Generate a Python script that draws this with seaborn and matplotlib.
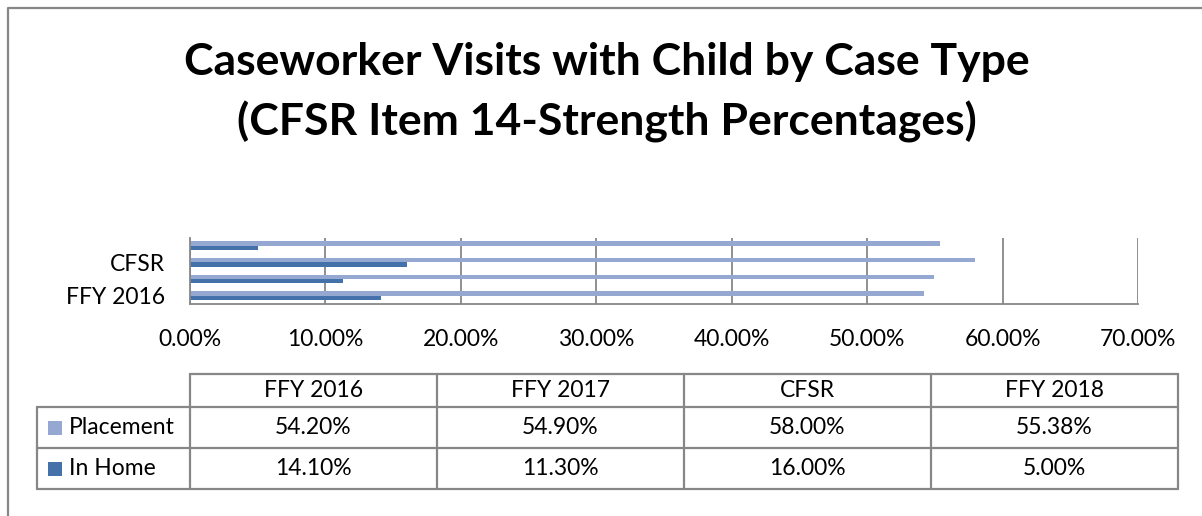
import numpy as np
import pandas as pd
import matplotlib
matplotlib.use('Agg')
import matplotlib.pyplot as plt
from matplotlib.patches import Rectangle
import seaborn as sns

# data
categories = ['FFY 2016', 'FFY 2017', 'CFSR', 'FFY 2018']
series = ['Placement', 'In Home']
placement = [54.20, 54.90, 58.00, 55.38]
in_home = [14.10, 11.30, 16.00, 5.00]
x_ticks = [0, 10, 20, 30, 40, 50, 60, 70]
shown_labels = ['CFSR', 'FFY 2016']

colors = {'Placement': '#95A8D1', 'In Home': '#4571AA'}
grey = '#878787'

sns.set_style('white')
plt.rcParams['font.family'] = ['Lato', 'DejaVu Sans']
plt.rcParams['text.color'] = 'black'
plt.rcParams['xtick.color'] = 'black'
plt.rcParams['ytick.color'] = 'black'

df = pd.DataFrame({
    'category': categories * 2,
    'series': ['Placement'] * 4 + ['In Home'] * 4,
    'value': placement + in_home,
})

W, H = 1202, 516
fig = plt.figure(figsize=(W / 100, H / 100), dpi=100)
fs = 16.5

# chart area in pixel terms
x0, x1 = 190, 1138
y_top, y_bot = 237.5, 304
ax = fig.add_axes([x0 / W, 1 - y_bot / H, (x1 - x0) / W, (y_bot - y_top) / H])

order = categories[::-1]  # top to bottom
sns.barplot(data=df, x='value', y='category', hue='series', order=order,
            hue_order=series, palette=colors, orient='h', width=0.52,
            linewidth=0, saturation=1, legend=False, ax=ax)

ax.set_xlim(0, 70)
ax.set_ylim(len(order) - 0.5, -0.5)
ax.set_xticks(x_ticks)
ax.set_xticklabels([f'{v:.2f}%' for v in x_ticks], fontsize=fs, color='black')
ax.set_yticks([order.index(c) for c in shown_labels])
ax.set_yticklabels(shown_labels, fontsize=fs, color='black')
ax.set_yticks(np.arange(-0.5, len(order), 1.0), minor=True)
ax.tick_params(axis='y', which='major', length=0, pad=18)
ax.tick_params(axis='y', which='minor', length=6, width=1.3, color=grey, direction='out')
ax.tick_params(axis='x', which='major', length=6, width=1.3, color=grey, direction='out', pad=12)
ax.grid(axis='x', color=grey, linewidth=1.3)
ax.set_axisbelow(True)
ax.set_xlabel('')
ax.set_ylabel('')
for side in ['top', 'right']:
    ax.spines[side].set_visible(False)
for side in ['left', 'bottom']:
    ax.spines[side].set_color(grey)
    ax.spines[side].set_linewidth(1.3)

# overlay for title, border and data table (pixel coordinates)
ov = fig.add_axes([0, 0, 1, 1], zorder=-1)
ov.set_xlim(0, W)
ov.set_ylim(H, 0)
ov.axis('off')

ov.plot([8, 8, W], [H, 8, 8], color=grey, linewidth=1.6)

ov.text(607, 62, 'Caseworker Visits with Child by Case Type', ha='center', va='center',
        fontsize=32, fontweight='bold')
ov.text(607, 122, '(CFSR Item 14-Strength Percentages)', ha='center', va='center',
        fontsize=32, fontweight='bold')

# table
col_edges = [190, 437, 684, 931, 1178]
row_edges = [374, 407, 448, 489]
tab_left = 37
lw = 1.6
ov.plot([col_edges[0], col_edges[-1]], [row_edges[0]] * 2, color=grey, lw=lw)
for y in row_edges[1:]:
    ov.plot([tab_left, col_edges[-1]], [y, y], color=grey, lw=lw)
for x in col_edges:
    ov.plot([x, x], [row_edges[0], row_edges[-1]], color=grey, lw=lw)
ov.plot([tab_left, tab_left], [row_edges[1], row_edges[-1]], color=grey, lw=lw)

for i, cat in enumerate(categories):
    cx = (col_edges[i] + col_edges[i + 1]) / 2
    ov.text(cx, (row_edges[0] + row_edges[1]) / 2, cat, ha='center', va='center', fontsize=fs)
    for r, vals in enumerate([placement, in_home]):
        cy = (row_edges[r + 1] + row_edges[r + 2]) / 2
        ov.text(cx, cy, f'{vals[i]:.2f}%', ha='center', va='center', fontsize=fs)

for r, name in enumerate(series):
    cy = (row_edges[r + 1] + row_edges[r + 2]) / 2
    ov.add_patch(Rectangle((48, cy - 7), 14, 14, facecolor=colors[name], edgecolor='none'))
    ov.text(69, cy, name, ha='left', va='center', fontsize=fs)

fig.savefig('out.png', dpi=100, facecolor='white')
